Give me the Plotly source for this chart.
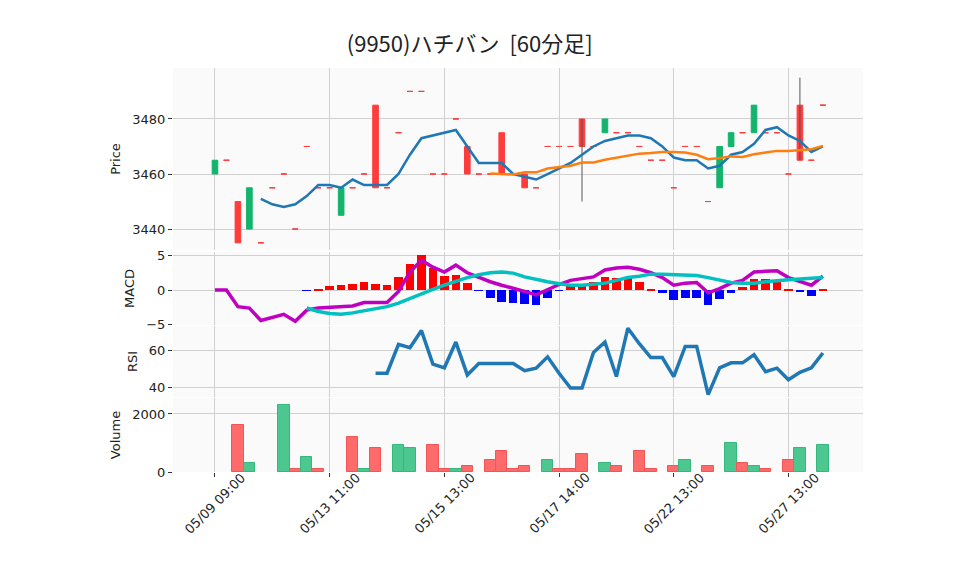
import plotly.graph_objects as go
from plotly.subplots import make_subplots
import pandas as pd

opens = [3460,3465,3450,3440,3435,3455,3460,3440,3470,3455,3455,3445,3455,3460,3485,3455,3475,3490,3490,3460,
         3460,3480,3470,3460,3460,3475,3460,3460,3455,3470,3470,3470,3480,3470,3475,3475,3475,3470,3465,3465,
         3455,3470,3470,3450,3455,3470,3475,3475,3475,3475,3460,3485,3465,3485]
closes = [3465,3465,3435,3455,3435,3455,3460,3440,3470,3455,3455,3455,3455,3460,3455,3455,3475,3490,3490,3460,
          3460,3480,3460,3460,3460,3460,3460,3455,3455,3470,3470,3470,3470,3470,3480,3475,3475,3470,3465,3465,
          3455,3470,3470,3450,3470,3475,3475,3485,3475,3475,3460,3465,3465,3485]
highs = [max(o, c) for o, c in zip(opens, closes)]
lows = [min(o, c) for o, c in zip(opens, closes)]
lows[32] = 3450
highs[51] = 3495

volumes = [0,0,1630,312,0,0,2324,104,520,104,0,0,1200,104,832,0,936,832,0,936,
           104,104,208,0,405,717,104,208,0,405,104,104,613,0,300,208,0,717,104,0,
           208,405,0,208,0,994,300,208,104,0,405,832,0,936]
vol_up = [0,0,0,1,0,0,1,0,1,0,0,0,0,1,0,0,1,1,0,0,
          0,1,0,0,0,0,0,0,0,1,0,0,0,0,1,0,0,0,0,0,
          0,1,0,0,0,1,0,1,0,0,0,1,0,1]

macd = [0,0,-2.4,-2.6,-4.4,-4.0,-3.5,-4.5,-2.9,-2.6,-2.5,-2.4,-2.3,-1.8,-1.8,-1.8,-0.2,2.6,4.3,3.3,
        2.6,3.6,2.5,1.8,1.2,0.7,0.3,-0.2,-0.7,0.1,0.8,1.4,1.7,1.9,2.9,3.2,3.3,3.0,2.5,1.8,
        0.7,1.0,1.1,-0.4,0.2,1.0,1.4,2.6,2.7,2.8,1.8,1.3,0.7,2.0]
signal = [None]*8 + [-2.6,-3.1,-3.4,-3.5,-3.3,-3.0,-2.7,-2.4,-1.9,-1.2,-0.5,0.1,0.7,1.3,1.8,2.2,2.5,2.6,2.45,
          1.9,1.5,1.2,0.9,0.7,0.7,0.8,1.0,1.4,1.8,2.0,2.3,2.3,2.2,2.2,2.1,1.8,1.4,1.1,1.0,1.0,1.2,1.4,1.5,1.6,1.7,1.8]
hist = [None]*8 + [-0.05,0.2,0.6,0.7,0.9,1.1,0.9,0.7,1.9,3.8,5.0,3.2,2.0,2.2,1.0,-0.05,-1.1,-1.7,-1.8,
        -2.0,-2.1,-1.1,-0.1,0.7,0.7,1.1,1.9,1.8,1.7,1.1,0.15,-0.4,-1.5,-1.2,-1.1,-2.1,-1.3,-0.4,0.5,1.6,1.6,1.1,0.2,-0.2,-0.8,0.2]
rsi = [None]*14 + [47.6,47.6,63.4,61.6,71,52.6,50.6,64.7,46.7,53,53,53,53,49,50.4,56.6,47.6,39.5,39.5,59,
       64.7,45.8,72.3,63.8,56.2,56.2,45.8,62.3,62.3,35.9,50.6,53.3,53.3,57.8,48.5,50.4,44,48.1,50.6,58.7]

tick_idx = [0,10,20,30,40,50]
tick_text = ["05/09 09:00","05/13 11:00","05/15 13:00","05/17 14:00","05/22 13:00","05/27 13:00"]

x = list(range(len(closes)))
ma5 = pd.Series(closes).rolling(5).mean().tolist()
ma25 = pd.Series(closes).rolling(25).mean().tolist()

body = [i for i in x if opens[i] != closes[i]]
flat = [i for i in x if opens[i] == closes[i]]

fig = make_subplots(rows=4, cols=1, shared_xaxes=True)
wx, wy = [], []
for i in x:
    if highs[i] > max(opens[i], closes[i]) or lows[i] < min(opens[i], closes[i]):
        wx += [i, i, None]
        wy += [lows[i], highs[i], None]
fig.add_trace(go.Scatter(x=wx, y=wy, mode="lines", line=dict(color="#555555", width=1), showlegend=False), 1, 1)
fig.add_trace(go.Candlestick(x=body, open=[opens[i] for i in body], high=[max(opens[i], closes[i]) for i in body],
    low=[min(opens[i], closes[i]) for i in body], close=[closes[i] for i in body], whiskerwidth=0,
    increasing=dict(line=dict(color="#13b46c", width=1), fillcolor="#13b46c"),
    decreasing=dict(line=dict(color="#ff3c3c", width=1), fillcolor="#ff3c3c"), showlegend=False), 1, 1)
fig.add_trace(go.Candlestick(x=flat, open=[opens[i] for i in flat], high=[highs[i] for i in flat],
    low=[lows[i] for i in flat], close=[closes[i] for i in flat], whiskerwidth=0,
    increasing=dict(line=dict(color="#ff3c3c", width=1), fillcolor="#ff3c3c"),
    decreasing=dict(line=dict(color="#ff3c3c", width=1), fillcolor="#ff3c3c"), showlegend=False), 1, 1)
fig.add_trace(go.Scatter(x=x, y=ma5, mode="lines", line=dict(color="#1f77b4", width=2.5), showlegend=False), 1, 1)
fig.add_trace(go.Scatter(x=x, y=ma25, mode="lines", line=dict(color="#ff7f0e", width=2.5), showlegend=False), 1, 1)

hcol = ["#ff0000" if (h is not None and h >= 0) else "#0000ff" for h in hist]
fig.add_trace(go.Bar(x=x, y=hist, marker=dict(color=hcol, line_width=0), width=0.75, showlegend=False), 2, 1)
fig.add_trace(go.Scatter(x=x, y=macd, mode="lines", line=dict(color="#c000c0", width=3.5), showlegend=False), 2, 1)
fig.add_trace(go.Scatter(x=x, y=signal, mode="lines", line=dict(color="#00c0c0", width=3.5), showlegend=False), 2, 1)

fig.add_trace(go.Scatter(x=x, y=rsi, mode="lines", line=dict(color="#1f77b4", width=3.5), showlegend=False), 3, 1)

vcol = ["#4cc790" if u else "#ff6b6b" for u in vol_up]
vline = ["#35b87d" if u else "#f25555" for u in vol_up]
vlw = [1 if v > 0 else 0 for v in volumes]
fig.add_trace(go.Bar(x=x, y=volumes, marker=dict(color=vcol, line=dict(color=vline, width=vlw)), width=1.0, showlegend=False), 4, 1)

H = 404.0
doms = [(472-250)/H, 1.0], [(472-325)/H, (472-252)/H], [(472-397)/H, (472-326)/H], [0, (472-398)/H]
ranges = [[3432.4, 3498.5], [-5.05, 5.5], [34.6, 73.5], [0, 2550]]
tvals = [[3440, 3460, 3480], [-5, 0, 5], [40, 60], [0, 2000]]
titles = ["Price", "MACD", "RSI", "Volume"]
for i in range(4):
    n = "" if i == 0 else str(i + 1)
    fig.layout["yaxis" + n].update(domain=doms[i], range=ranges[i], tickvals=tvals[i], automargin=False,
        title=dict(text=titles[i], standoff=8, font=dict(size=13)), gridcolor="#d0d0d0",
        zeroline=False, ticks="outside", ticklen=4, tickcolor="#333", showline=False,
        tickfont=dict(size=13))
    fig.layout["xaxis" + n].update(range=[-3.66, 56.5], tickvals=tick_idx, ticktext=tick_text, automargin=False,
        gridcolor="#d0d0d0", showgrid=True, zeroline=False, rangeslider=dict(visible=False),
        showticklabels=False, ticks="outside" if i == 3 else "", ticklen=4, tickcolor="#333")

for t, s in zip(tick_idx, tick_text):
    fig.add_annotation(x=t, xref="x4", y=-31/404, yref="paper", text=s, textangle=-45, showarrow=False,
                       xanchor="center", yanchor="middle", font=dict(size=13, color="#222"))

fig.update_layout(width=958, height=575, paper_bgcolor="white", plot_bgcolor="#fafafa",
    margin=dict(l=165, r=103, t=60, b=111), bargap=0,
    font=dict(family="DejaVu Sans", color="#222"),
    title=dict(text="(9950)ハチバン  [60分足]", x=0.482, xanchor="center", y=0.937, yanchor="middle",
               font=dict(size=22, family="Noto Sans CJK JP")))
fig.write_html("out.html")
